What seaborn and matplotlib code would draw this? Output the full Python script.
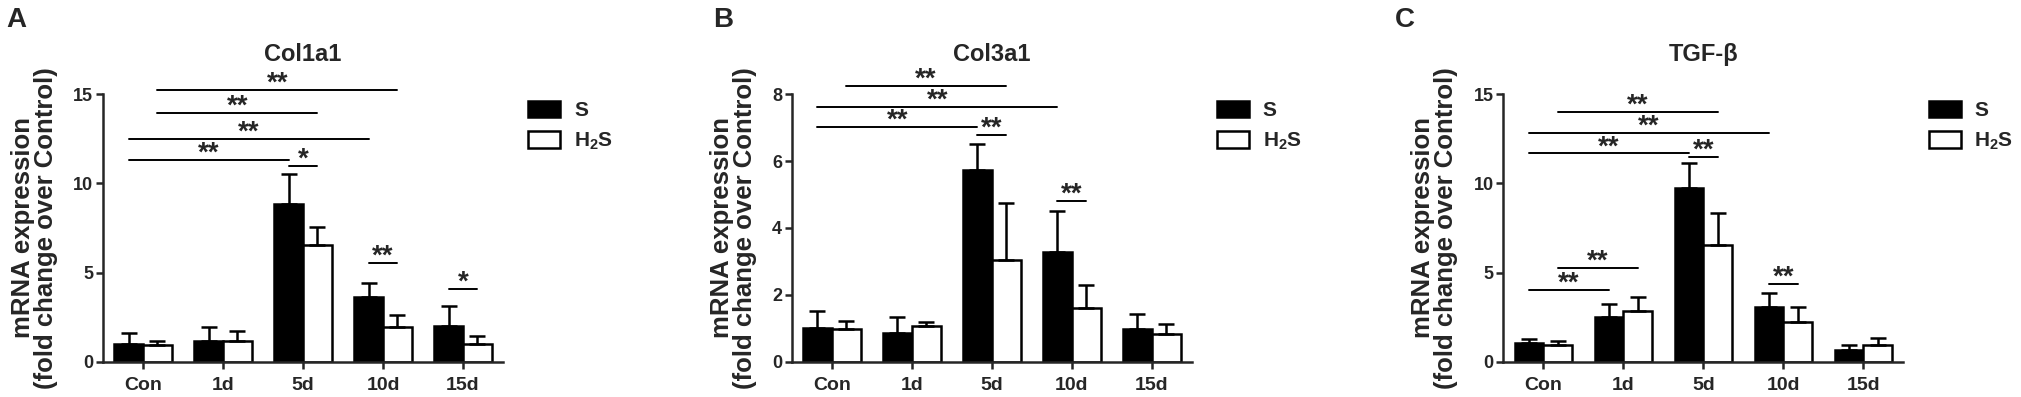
import numpy as np
import pandas as pd
import matplotlib
matplotlib.use("Agg")
import matplotlib.pyplot as plt
import seaborn as sns
from matplotlib.patches import Patch

# ---------------- data ----------------
groups = ["Con", "1d", "5d", "10d", "15d"]
treatments = ["S", "H2S"]

col1a1_S = [1.00, 1.14, 8.83, 3.62, 2.03]
col1a1_S_err = [0.60, 0.79, 1.69, 0.79, 1.12]
col1a1_H2S = [0.96, 1.14, 6.56, 1.93, 0.99]
col1a1_H2S_err = [0.22, 0.56, 1.00, 0.71, 0.47]

col3a1_S = [1.00, 0.86, 5.75, 3.28, 0.99]
col3a1_S_err = [0.53, 0.47, 0.76, 1.22, 0.44]
col3a1_H2S = [0.98, 1.08, 3.05, 1.62, 0.82]
col3a1_H2S_err = [0.23, 0.10, 1.71, 0.66, 0.31]

tgfb_S = [1.03, 2.53, 9.77, 3.09, 0.66]
tgfb_S_err = [0.25, 0.71, 1.35, 0.79, 0.28]
tgfb_H2S = [0.96, 2.83, 6.56, 2.25, 0.96]
tgfb_H2S_err = [0.22, 0.79, 1.78, 0.84, 0.35]

# significance brackets: (group1, treatment1, group2, treatment2, y, label)
col1a1_sig = [
    ("Con", "H2S", "10d", "H2S", 15.24, "**"),
    ("Con", "H2S", "5d", "H2S", 13.93, "**"),
    ("Con", "S", "10d", "S", 12.47, "**"),
    ("Con", "S", "5d", "S", 11.31, "**"),
    ("5d", "S", "5d", "H2S", 10.99, "*"),
    ("10d", "S", "10d", "H2S", 5.53, "**"),
    ("15d", "S", "15d", "H2S", 4.07, "*"),
]
col3a1_sig = [
    ("Con", "H2S", "5d", "H2S", 8.25, "**"),
    ("Con", "S", "10d", "S", 7.63, "**"),
    ("Con", "S", "5d", "S", 7.03, "**"),
    ("5d", "S", "5d", "H2S", 6.78, "**"),
    ("10d", "S", "10d", "H2S", 4.81, "**"),
]
tgfb_sig = [
    ("Con", "H2S", "5d", "H2S", 14.03, "**"),
    ("Con", "S", "10d", "S", 12.84, "**"),
    ("Con", "S", "5d", "S", 11.68, "**"),
    ("5d", "S", "5d", "H2S", 11.46, "**"),
    ("Con", "H2S", "1d", "H2S", 5.25, "**"),
    ("Con", "S", "1d", "S", 4.03, "**"),
    ("10d", "S", "10d", "H2S", 4.37, "**"),
]

panels = [
    dict(letter="A", title="Col1a1", S=col1a1_S, Se=col1a1_S_err, H=col1a1_H2S, He=col1a1_H2S_err,
         sig=col1a1_sig, ymax=15, yticks=[0, 5, 10, 15]),
    dict(letter="B", title="Col3a1", S=col3a1_S, Se=col3a1_S_err, H=col3a1_H2S, He=col3a1_H2S_err,
         sig=col3a1_sig, ymax=8, yticks=[0, 2, 4, 6, 8]),
    dict(letter="C", title="TGF-β", S=tgfb_S, Se=tgfb_S_err, H=tgfb_H2S, He=tgfb_H2S_err,
         sig=tgfb_sig, ymax=15, yticks=[0, 5, 10, 15]),
]

# ---------------- style ----------------
sns.set_style("ticks")
plt.rcParams["font.family"] = ["Liberation Sans", "DejaVu Sans"]
plt.rcParams["font.weight"] = "bold"
plt.rcParams["mathtext.fontset"] = "custom"
plt.rcParams["mathtext.rm"] = "Liberation Sans:bold"
plt.rcParams["mathtext.bf"] = "Liberation Sans:bold"
plt.rcParams["mathtext.default"] = "bf"

W, H = 2021, 397
fig = plt.figure(figsize=(W / 100, H / 100), dpi=100)

axes_left_px = [103, 791.7, 1503.3]
ax_w_px = 400
ax_bottom_px, ax_top_px = 361.7, 94.3
letter_x_px = [6, 713, 1395]

lw = 1.8
for i, p in enumerate(panels):
    ax = fig.add_axes([axes_left_px[i] / W, 1 - ax_bottom_px / H,
                       ax_w_px / W, (ax_bottom_px - ax_top_px) / H])
    df = pd.DataFrame({
        "group": groups * 2,
        "treatment": ["S"] * 5 + ["H2S"] * 5,
        "value": list(p["S"]) + list(p["H"]),
    })
    sns.barplot(data=df, x="group", y="value", hue="treatment", order=groups,
                hue_order=treatments, palette={"S": "black", "H2S": "white"},
                edgecolor="black", linewidth=lw, width=0.72, errorbar=None,
                legend=False, ax=ax, saturation=1)
    pos = {}
    errs = {"S": p["Se"], "H2S": p["He"]}
    for t, cont in zip(treatments, ax.containers):
        xs, ys = [], []
        for g, bar in zip(groups, cont):
            xc = bar.get_x() + bar.get_width() / 2
            pos[(g, t)] = xc
            xs.append(xc)
            ys.append(bar.get_height())
        e = np.array(errs[t])
        ax.errorbar(xs, ys, yerr=[np.zeros_like(e), e], fmt="none", ecolor="black",
                    elinewidth=lw, capsize=5.5, capthick=lw, zorder=3)

    ax.set_xlim(-0.5, 4.5)
    ax.set_ylim(0, p["ymax"])
    ax.set_yticks(p["yticks"])
    ax.set_xlabel("")
    ax.set_ylabel("mRNA expression\n(fold change over Control)", fontsize=18.5,
                  fontweight="bold", labelpad=11, linespacing=0.95)
    ax.tick_params(axis="x", labelsize=14, length=5, width=lw, pad=6)
    ax.tick_params(axis="y", labelsize=13, length=5, width=lw, pad=2)
    for lab in ax.get_xticklabels() + ax.get_yticklabels():
        lab.set_fontweight("bold")
    sns.despine(ax=ax)
    for s in ["left", "bottom"]:
        ax.spines[s].set_linewidth(lw)

    # significance brackets
    for g1, t1, g2, t2, y, lab in p["sig"]:
        x1, x2 = pos[(g1, t1)], pos[(g2, t2)]
        ax.plot([x1, x2], [y, y], color="black", lw=1.4, clip_on=False, zorder=4)
        ax.annotate(lab, xy=((x1 + x2) / 2, y), xytext=(0, -0.5), textcoords="offset points",
                    ha="center", va="baseline", fontsize=20, fontweight="bold",
                    annotation_clip=False)

    ax.text(0.5, 1.147, p["title"], transform=ax.transAxes, ha="center", va="center",
            fontsize=17, fontweight="bold")

    handles = [Patch(facecolor="black", edgecolor="black", linewidth=lw),
               Patch(facecolor="white", edgecolor="black", linewidth=lw)]
    ax.legend(handles, ["S", "H$_2$S"], loc="upper left", bbox_to_anchor=(1.063, 0.975),
              frameon=False, fontsize=15, handlelength=1.55, handleheight=0.82,
              handletextpad=0.65, labelspacing=0.5, borderpad=0, borderaxespad=0)

    fig.text(letter_x_px[i] / W, 1 - 7 / H, p["letter"], ha="left", va="top",
             fontsize=20, fontweight="bold")

fig.savefig("out.png", dpi=100)
